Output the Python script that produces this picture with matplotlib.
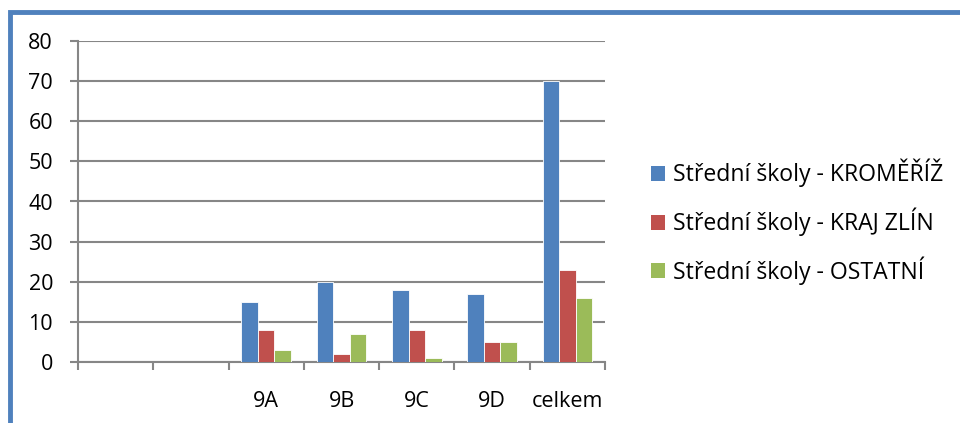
import matplotlib.pyplot as plt
from matplotlib.patches import Rectangle, Patch
import numpy as np

plt.rcParams['font.family'] = ['Open Sans', 'DejaVu Sans']

categories = ['', '', '9A', '9B', '9C', '9D', 'celkem']
kromeriz = [0, 0, 15, 20, 18, 17, 70]
kraj_zlin = [0, 0, 8, 2, 8, 5, 23]
ostatni = [0, 0, 3, 7, 1, 5, 16]
series_names = ['Střední školy - KROMĚŘÍŽ', 'Střední školy - KRAJ ZLÍN', 'Střední školy - OSTATNÍ']
colors = ['#4F81BD', '#C0504D', '#9BBB59']
yticks = list(range(0, 81, 10))

fig = plt.figure(figsize=(9.6, 4.23), dpi=100)
ax = fig.add_axes([78 / 960, 61 / 423, 527 / 960, 321 / 423])

x = np.arange(len(categories))
w = 0.22
for i, (vals, c) in enumerate(zip([kromeriz, kraj_zlin, ostatni], colors)):
    ax.bar(x + (i - 1) * w, vals, width=w, color=c, edgecolor='white', linewidth=0.6, zorder=3)

ax.set_xlim(-0.5, len(categories) - 0.5)
ax.set_ylim(0, 80)
ax.set_yticks(yticks)
ax.set_yticklabels([str(v) for v in yticks], fontsize=15.5)
ax.yaxis.grid(True, color='#868686', linewidth=1.5, zorder=0)
ax.set_axisbelow(True)

ax.set_xticks(np.arange(len(categories) + 1) - 0.5, minor=False)
ax.set_xticklabels([])
ax.set_xticks(x, minor=True)
ax.set_xticklabels(categories, minor=True, fontsize=15.5)
ax.tick_params(axis='x', which='major', length=6, width=1.5, color='#868686', direction='out')
ax.tick_params(axis='x', which='minor', length=0, pad=21)
ax.tick_params(axis='y', length=6, width=1.5, color='#868686', direction='out', pad=12)

for s in ['top', 'right']:
    ax.spines[s].set_visible(False)
for s in ['left', 'bottom']:
    ax.spines[s].set_color('#868686')
    ax.spines[s].set_linewidth(1.5)

handles = [Patch(facecolor=c, edgecolor='none') for c in colors]
fig.legend(handles, series_names, loc='center left', bbox_to_anchor=(630 / 960, (423 - 222) / 423),
           frameon=False, fontsize=16.6, handlelength=0.62, handleheight=0.62,
           handletextpad=0.35, labelspacing=0.88)

fig.patches.append(Rectangle((10 / 960, -0.1), 1.2, (423 - 12) / 423 + 0.1,
                             transform=fig.transFigure, fill=False,
                             edgecolor='#4F81BD', linewidth=3.5))

fig.savefig('out.png', dpi=100)
